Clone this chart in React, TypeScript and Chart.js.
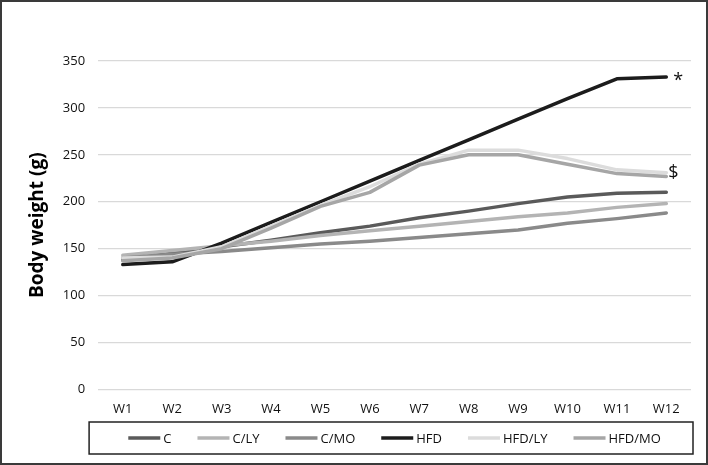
import React, { useEffect, useRef } from "react";
import { Chart, registerables } from "chart.js";

Chart.register(...registerables);

const weeks = ["W1", "W2", "W3", "W4", "W5", "W6", "W7", "W8", "W9", "W10", "W11", "W12"];
const seriesNames = ["C", "C/LY", "C/MO", "HFD", "HFD/LY", "HFD/MO"];
const cValues = [138, 145, 152, 159, 167, 174, 183, 190, 198, 205, 209, 210];
const cLyValues = [143, 148, 153, 158, 164, 169, 174, 179, 184, 188, 194, 198];
const cMoValues = [140, 144, 147, 151, 155, 158, 162, 166, 170, 177, 182, 188];
const hfdValues = [133, 136, 156, 178, 200, 222, 244, 266, 288, 310, 331, 333];
const hfdLyValues = [140, 141, 152, 174, 196, 216, 240, 255, 255, 246, 234, 231];
const hfdMoValues = [137, 140, 150, 172, 195, 210, 239, 250, 250, 240, 230, 227];
const seriesColors = ["#5a5a5a", "#b4b4b4", "#8a8a8a", "#1c1c1c", "#dcdcdc", "#a6a6a6"];
const yMin = 0;
const yMax = 350;
const yStep = 50;
const annotationSeries = ["HFD", "HFD/LY"];
const annotationMarks = ["*", "$"];

const FONT = "'Open Sans', 'Noto Sans', sans-serif";

const framePlugin = {
  id: "frame",
  beforeDraw(chart: any) {
    const { ctx, width, height } = chart;
    ctx.save();
    ctx.fillStyle = "#ffffff";
    ctx.fillRect(0, 0, width, height);
    ctx.restore();
  },
  afterDraw(chart: any) {
    const { ctx, width, height } = chart;
    ctx.save();
    ctx.strokeStyle = "#3a3a3a";
    ctx.lineWidth = 2;
    ctx.strokeRect(1, 1, width - 2, height - 2);
    ctx.restore();
  },
};

const legendPlugin = {
  id: "boxLegend",
  afterDraw(chart: any) {
    const { ctx, chartArea } = chart;
    ctx.save();
    ctx.font = `13px ${FONT}`;
    const sampleW = 32;
    const gapText = 3;
    const gapItem = 26;
    const items = chart.data.datasets.map((ds: any) => ({
      label: ds.label,
      color: ds.borderColor,
      w: ctx.measureText(ds.label).width,
    }));
    const total =
      items.reduce((s: number, it: any) => s + sampleW + gapText + it.w, 0) + gapItem * (items.length - 1);
    const cy = chart.height - 27;
    const boxL = chartArea.left - 9;
    const boxR = chartArea.right + 2;
    ctx.strokeStyle = "#222222";
    ctx.lineWidth = 1.5;
    ctx.strokeRect(boxL, cy - 16, boxR - boxL, 32);
    let x = (chartArea.left + chartArea.right) / 2 - total / 2;
    ctx.textBaseline = "middle";
    ctx.textAlign = "left";
    for (const it of items) {
      ctx.strokeStyle = it.color;
      ctx.lineWidth = 3.5;
      ctx.beginPath();
      ctx.moveTo(x, cy);
      ctx.lineTo(x + sampleW, cy);
      ctx.stroke();
      ctx.fillStyle = "#111111";
      ctx.fillText(it.label, x + sampleW + gapText, cy + 1);
      x += sampleW + gapText + it.w + gapItem;
    }
    ctx.restore();
  },
};

const annotationPlugin = {
  id: "marks",
  afterDatasetsDraw(chart: any) {
    const { ctx } = chart;
    ctx.save();
    ctx.fillStyle = "#111111";
    ctx.textBaseline = "middle";
    ctx.textAlign = "left";
    annotationSeries.forEach((name, i) => {
      const idx = chart.data.datasets.findIndex((d: any) => d.label === name);
      if (idx < 0) return;
      const meta = chart.getDatasetMeta(idx);
      const pt = meta.data[meta.data.length - 1];
      const mark = annotationMarks[i];
      ctx.font = `18px ${FONT}`;
      if (mark === "*") {
        ctx.fillText(mark, pt.x + 7, pt.y + 4);
      } else {
        ctx.fillText(mark, pt.x + 2, pt.y);
      }
    });
    ctx.restore();
  },
};

export default function App() {
  const canvasRef = useRef<HTMLCanvasElement | null>(null);

  useEffect(() => {
    const canvas = canvasRef.current;
    if (!canvas) return;
    const allValues = [cValues, cLyValues, cMoValues, hfdValues, hfdLyValues, hfdMoValues];
    const datasets = seriesNames.map((name, i) => ({
      label: name,
      data: allValues[i],
      borderColor: seriesColors[i],
      backgroundColor: seriesColors[i],
      borderWidth: 3.5,
      pointRadius: 0,
      pointHoverRadius: 0,
      tension: 0,
      fill: false,
      order: seriesNames.length - i,
      borderCapStyle: "round" as const,
      borderJoinStyle: "round" as const,
    }));
    const chart = new Chart(canvas, {
      type: "line",
      data: { labels: weeks, datasets },
      options: {
        responsive: false,
        animation: false,
        layout: { padding: { left: 26, right: 17, top: 61, bottom: 36 } },
        plugins: {
          legend: { display: false },
          tooltip: { enabled: false },
        },
        scales: {
          x: {
            offset: true,
            grid: { display: false, drawTicks: false },
            border: { display: false },
            ticks: {
              color: "#111111",
              font: { family: FONT, size: 13 },
              padding: 12,
              maxRotation: 0,
            },
          },
          y: {
            min: yMin,
            max: yMax,
            grid: { color: "#d9d9d9", lineWidth: 1.3, drawTicks: false },
            border: { display: false },
            ticks: {
              stepSize: yStep,
              color: "#111111",
              font: { family: FONT, size: 13 },
              padding: 13,
            },
            title: {
              display: true,
              text: "Body weight (g)",
              color: "#000000",
              font: { family: FONT, size: 19, weight: "bold" },
              padding: { top: 0, bottom: 1 },
            },
          },
        },
      },
      plugins: [framePlugin, annotationPlugin, legendPlugin],
    });
    return () => chart.destroy();
  }, []);

  return (
    <div style={{ position: "fixed", left: 0, top: 0, width: 708, height: 465 }}>
      <canvas ref={canvasRef} width={708} height={465} style={{ display: "block", width: 708, height: 465 }} />
    </div>
  );
}
